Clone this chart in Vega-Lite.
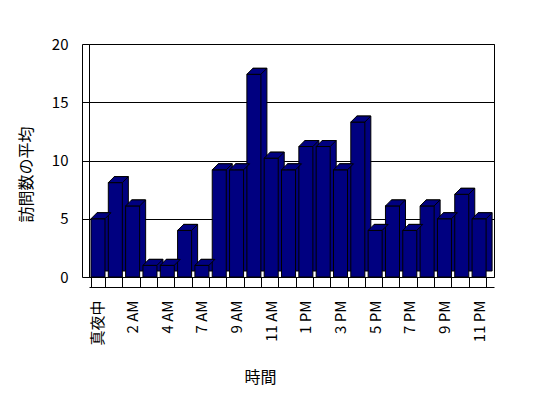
{
  "$schema": "https://vega.github.io/schema/vega-lite/v6.json",
  "width": 405,
  "height": 233,
  "autosize": "none",
  "padding": {"left": 89, "top": 44, "right": 54, "bottom": 121},
  "background": "white",
  "config": {
    "font": "Noto Sans CJK JP",
    "view": {"stroke": "black", "strokeWidth": 1},
    "axis": {"labelColor": "black", "titleColor": "black", "domainColor": "black", "tickColor": "black", "gridColor": "black", "gridOpacity": 1, "titleFontWeight": "normal"}
  },
  "data": {
    "values": [
      {"時間": "真夜中", "訪問数の平均": 5.0},
      {"時間": "1 AM", "訪問数の平均": 8.1},
      {"時間": "2 AM", "訪問数の平均": 6.1},
      {"時間": "3 AM", "訪問数の平均": 1.0},
      {"時間": "4 AM", "訪問数の平均": 1.0},
      {"時間": "5 AM", "訪問数の平均": 4.0},
      {"時間": "7 AM", "訪問数の平均": 1.0},
      {"時間": "8 AM", "訪問数の平均": 9.2},
      {"時間": "9 AM", "訪問数の平均": 9.2},
      {"時間": "10 AM", "訪問数の平均": 17.4},
      {"時間": "11 AM", "訪問数の平均": 10.2},
      {"時間": "正午", "訪問数の平均": 9.2},
      {"時間": "1 PM", "訪問数の平均": 11.2},
      {"時間": "2 PM", "訪問数の平均": 11.2},
      {"時間": "3 PM", "訪問数の平均": 9.2},
      {"時間": "4 PM", "訪問数の平均": 13.3},
      {"時間": "5 PM", "訪問数の平均": 4.0},
      {"時間": "6 PM", "訪問数の平均": 6.1},
      {"時間": "7 PM", "訪問数の平均": 4.0},
      {"時間": "8 PM", "訪問数の平均": 6.1},
      {"時間": "9 PM", "訪問数の平均": 5.0},
      {"時間": "10 PM", "訪問数の平均": 7.1},
      {"時間": "11 PM", "訪問数の平均": 5.0}
    ]
  },
  "encoding": {
    "x": {
      "field": "時間",
      "type": "ordinal",
      "sort": null,
      "scale": {"paddingInner": 0.19, "paddingOuter": 0.285, "align": 0.2},
      "axis": {
        "title": "時間",
        "titleFontSize": 16,
        "titleX": 171,
        "titleY": 90,
        "titleBaseline": "middle",
        "labelAngle": -90,
        "labelAlign": "right",
        "labelBaseline": "middle",
        "labelFontSize": 15,
        "labelPadding": 23,
        "labelOverlap": false,
        "labelExpr": "test(/^(真夜中|2 AM|4 AM|7 AM|9 AM|11 AM|1 PM|3 PM|5 PM|7 PM|9 PM|11 PM)$/, datum.value) ? datum.label : ''",
        "tickBand": "extent",
        "tickSize": -10,
        "offset": 10,
        "grid": false
      }
    },
    "y": {
      "field": "訪問数の平均",
      "type": "quantitative",
      "scale": {"domain": [0, 20], "nice": false},
      "axis": {
        "title": "訪問数の平均",
        "titleFontSize": 16,
        "titleX": -56,
        "titleY": 130,
        "titleBaseline": "middle",
        "titleAlign": "center",
        "values": [0, 5, 10, 15, 20],
        "labelFontSize": 15,
        "labelPadding": 21,
        "tickSize": -7,
        "offset": 7,
        "grid": true
      }
    }
  },
  "layer": [
    {"mark": {"type": "bar", "color": "#000080", "stroke": "black", "strokeWidth": 1, "xOffset": 6, "yOffset": -6}},
    {"mark": {"type": "bar", "color": "#000080", "stroke": "black", "strokeWidth": 1}},
    {"mark": {"type": "point", "shape": "M-7,0L7,0L13,-6L-1,-6Z", "size": 4, "filled": true, "fill": "#000080", "stroke": "black", "strokeWidth": 1, "opacity": 1, "strokeOpacity": 1}}
  ]
}
